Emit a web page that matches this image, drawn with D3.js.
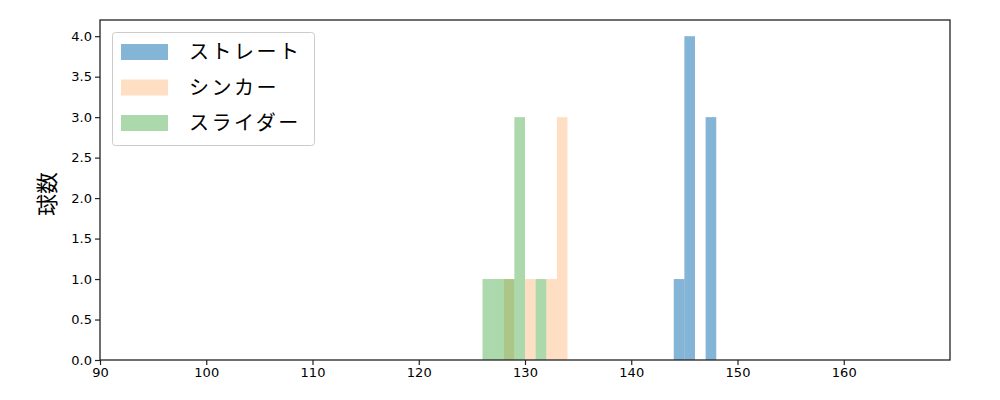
<!DOCTYPE html>
<html><head><meta charset="utf-8">
<script src="https://cdn.jsdelivr.net/npm/d3@7"></script>
<style>body{margin:0;background:#fff;} svg{display:block;font-family:"Noto Sans CJK JP","DejaVu Sans",sans-serif;}</style>
</head><body><svg id="c" width="1000" height="400"></svg>
<script>
const seriesNames = ["ストレート", "シンカー", "スライダー"];
const seriesColors = ["#1f77b4", "#ff7f0e", "#2ca02c"];
const seriesOpacity = [0.55, 0.25, 0.4];
// bins: [start, end, count]
const straightBins = [[144,145,1],[145,146,4],[146,147,0],[147,148,3]];
const sinkerBins = [[128,129,1],[129,130,0],[130,131,1],[131,132,0],[132,133,1],[133,134,3]];
const sliderBins = [[126,127,1],[127,128,1],[128,129,1],[129,130,3],[130,131,0],[131,132,1]];
const xTicks = [90,100,110,120,130,140,150,160];
const yTicks = [0,0.5,1,1.5,2,2.5,3,3.5,4];
const yLabel = "球数";

const svg = d3.select("#c");
const L=100,R=950,T=20,B=360;
const x = d3.scaleLinear().domain([90,170]).range([L,R]);
const y = d3.scaleLinear().domain([0,4.2]).range([B,T]);

const all=[straightBins,sinkerBins,sliderBins];
all.forEach((bins,i)=>{
  svg.append("g").selectAll("rect").data(bins.filter(d=>d[2]>0)).join("rect")
    .attr("x",d=>x(d[0])).attr("width",d=>x(d[1])-x(d[0]))
    .attr("y",d=>y(d[2])).attr("height",d=>y(0)-y(d[2]))
    .attr("fill",seriesColors[i]).attr("fill-opacity",seriesOpacity[i]);
});

const xa = svg.append("g").attr("transform",`translate(0,${B})`)
  .call(d3.axisBottom(x).tickValues(xTicks).tickFormat(d3.format("d")).tickSize(5).tickPadding(3));
const ya = svg.append("g").attr("transform",`translate(${L},0)`)
  .call(d3.axisLeft(y).tickValues(yTicks).tickFormat(d3.format(".1f")).tickSize(5).tickPadding(3));
[xa,ya].forEach(a=>{a.select(".domain").remove();a.selectAll("text").attr("font-size",13).attr("fill","#000").attr("font-family","DejaVu Sans, sans-serif");a.selectAll("line").attr("stroke","#222").attr("stroke-width",1.2);});

svg.append("rect").attr("x",L).attr("y",T).attr("width",R-L).attr("height",B-T)
  .attr("fill","none").attr("stroke","#222").attr("stroke-width",1.3);

svg.append("text").attr("transform",`translate(55,${(T+B)/2+4}) rotate(-90)`)
  .attr("text-anchor","middle").attr("font-size",22).text(yLabel);

const lg = svg.append("g");
lg.append("rect").attr("x",112.5).attr("y",32.5).attr("width",202).attr("height",113).attr("rx",3)
  .attr("fill","#fff").attr("fill-opacity",0.8).attr("stroke","#ccc");
seriesNames.forEach((n,i)=>{
  const yy=44+i*35.5;
  lg.append("rect").attr("x",121).attr("y",yy).attr("width",47).attr("height",16)
    .attr("fill",seriesColors[i]).attr("fill-opacity",seriesOpacity[i]);
  lg.append("text").attr("x",189).attr("y",yy+15).attr("font-size",20).attr("letter-spacing",2.5).text(n);
});
</script></body></html>
